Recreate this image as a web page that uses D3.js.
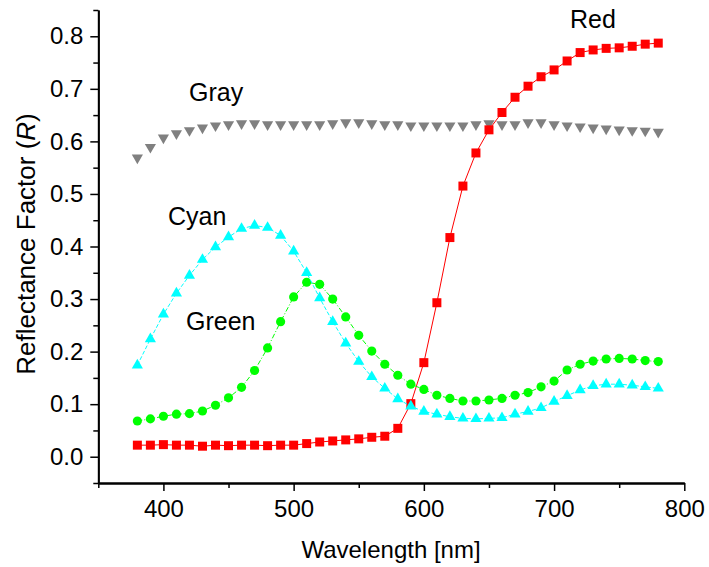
<!DOCTYPE html>
<html>
<head>
<meta charset="utf-8">
<script src="https://cdn.jsdelivr.net/npm/d3@7"></script>
<style>
  html, body { margin: 0; padding: 0; background: #fff; }
  svg text { font-family: "Liberation Sans", Arial, sans-serif; fill: #000; }
</style>
</head>
<body>
<svg id="chart" width="709" height="567"></svg>
<script>
const wavelengths = [380,390,400,410,420,430,440,450,460,470,480,490,500,510,520,530,540,550,560,570,580,590,600,610,620,630,640,650,660,670,680,690,700,710,720,730,740,750,760,770,780];

const redValues = [0.022,0.022,0.023,0.022,0.022,0.020,0.022,0.021,0.022,0.022,0.021,0.022,0.022,0.025,0.028,0.030,0.032,0.034,0.037,0.039,0.054,0.101,0.179,0.293,0.417,0.515,0.578,0.622,0.655,0.684,0.705,0.723,0.736,0.753,0.769,0.774,0.777,0.778,0.781,0.785,0.787];

const grayValues = [0.569,0.589,0.607,0.615,0.621,0.626,0.630,0.632,0.634,0.634,0.632,0.632,0.632,0.632,0.632,0.634,0.636,0.636,0.634,0.632,0.632,0.630,0.630,0.630,0.630,0.630,0.632,0.634,0.632,0.632,0.636,0.636,0.632,0.630,0.628,0.626,0.624,0.622,0.621,0.620,0.618];

const cyanValues = [0.174,0.224,0.271,0.311,0.345,0.375,0.399,0.418,0.434,0.440,0.436,0.421,0.391,0.350,0.302,0.257,0.216,0.181,0.152,0.130,0.110,0.096,0.086,0.081,0.076,0.073,0.072,0.073,0.074,0.081,0.086,0.093,0.105,0.116,0.127,0.135,0.138,0.138,0.136,0.133,0.130];

const greenValues = [0.068,0.072,0.077,0.081,0.082,0.087,0.098,0.112,0.132,0.164,0.207,0.257,0.304,0.332,0.328,0.300,0.266,0.231,0.201,0.176,0.155,0.138,0.128,0.117,0.111,0.106,0.106,0.108,0.111,0.117,0.122,0.133,0.144,0.165,0.176,0.182,0.186,0.187,0.186,0.183,0.181];

const xTicks = [400,500,600,700,800];
const xMinorTicks = [350,450,550,650,750];
const yTicks = [0.0,0.1,0.2,0.3,0.4,0.5,0.6,0.7,0.8];
const yMinorTicks = [-0.05,0.05,0.15,0.25,0.35,0.45,0.55,0.65,0.75,0.85];

const svg = d3.select("#chart");
const x = d3.scaleLinear().domain([350,800]).range([98.3,684.3]);
const y = d3.scaleLinear().domain([-0.05,0.85]).range([483,10]);

// axes
const xAxis = svg.append("g").attr("transform","translate(0,483)")
  .call(d3.axisBottom(x).tickValues(xTicks).tickSize(8).tickSizeOuter(0).tickPadding(9).tickFormat(d3.format("d")));
const xMinor = svg.append("g").attr("transform","translate(0,483)")
  .call(d3.axisBottom(x).tickValues(xMinorTicks).tickSize(5).tickSizeOuter(0).tickFormat(""));
const yAxis = svg.append("g").attr("transform","translate(98.3,0)")
  .call(d3.axisLeft(y).tickValues(yTicks).tickSize(8).tickSizeOuter(0).tickPadding(7).tickFormat(d3.format(".1f")));
const yMinor = svg.append("g").attr("transform","translate(98.3,0)")
  .call(d3.axisLeft(y).tickValues(yMinorTicks).tickSize(5).tickSizeOuter(0).tickFormat(""));

[xAxis,xMinor,yAxis,yMinor].forEach(g => {
  g.selectAll(".domain").attr("stroke","#000").attr("stroke-width",1.8);
  g.selectAll(".tick line").attr("stroke","#000").attr("stroke-width",1.5);
  g.selectAll("text").attr("font-size",24).attr("fill","#000")
    .style("font-family","'Liberation Sans', Arial, sans-serif");
});

// axis titles
svg.append("text").attr("x",391).attr("y",558).attr("text-anchor","middle")
  .attr("font-size",24).text("Wavelength [nm]");
const yt = svg.append("text").attr("transform","translate(35,244) rotate(-90)")
  .attr("text-anchor","middle").attr("font-size",26);
yt.append("tspan").text("Reflectance Factor (");
yt.append("tspan").attr("font-style","italic").text("R");
yt.append("tspan").text(")");

// series
const series = [
  {name:"Gray", values:grayValues, color:"#808080", marker:"tridown", dash:null, line:false},
  {name:"Red", values:redValues, color:"#FF0000", marker:"square", dash:null, line:true},
  {name:"Green", values:greenValues, color:"#00FF00", marker:"circle", dash:"5,2,1,2", line:true},
  {name:"Cyan", values:cyanValues, color:"#00FFFF", marker:"triup", dash:"4,2", line:true}
];

const line = d3.line().x(d => x(d[0])).y(d => y(d[1]));
const symSquare = d3.symbol().type(d3.symbolSquare).size(81);
const symCircle = d3.symbol().type(d3.symbolCircle).size(66);
const symTri = d3.symbol().type(d3.symbolTriangle).size(54);

series.forEach(s => {
  const pts = wavelengths.map((w,i) => [w, s.values[i]]);
  if (s.line) {
    svg.append("path").datum(pts).attr("d", line).attr("fill","none")
      .attr("stroke", s.color).attr("stroke-width",1)
      .attr("stroke-dasharray", s.dash);
  }
  const g = svg.append("g");
  g.selectAll("path").data(pts).join("path")
    .attr("transform", d => {
      let t = `translate(${x(d[0])},${y(d[1])})`;
      if (s.marker === "tridown") t += " rotate(180)";
      return t;
    })
    .attr("d", s.marker === "square" ? symSquare() : s.marker === "circle" ? symCircle() : symTri())
    .attr("fill", s.color);
});

// labels
const labels = [
  {text:"Red", x:570, y:28},
  {text:"Gray", x:189, y:101},
  {text:"Cyan", x:168, y:225},
  {text:"Green", x:186, y:330}
];
svg.selectAll("text.lbl").data(labels).join("text").attr("class","lbl")
  .attr("x", d => d.x).attr("y", d => d.y).attr("font-size",25).text(d => d.text);
</script>
</body>
</html>
